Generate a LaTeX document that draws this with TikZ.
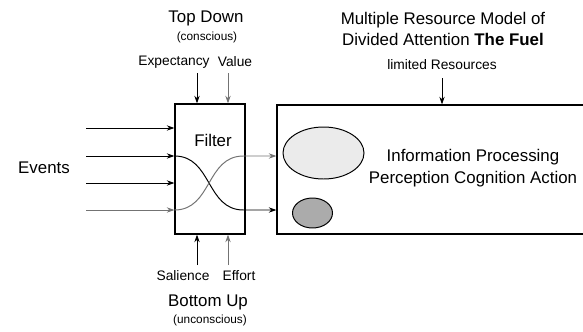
\documentclass[tikz,border=0pt]{standalone}
\usepackage{fontspec}
\setmainfont{Liberation Sans}
\usetikzlibrary{arrows.meta,positioning,calc,shapes.geometric}

\begin{document}
\begin{tikzpicture}[
    box/.style={draw, line width=0.8pt, inner sep=0pt},
    blob/.style={draw, ellipse, line width=0.7pt, inner sep=0pt},
    big/.style={font=\fontsize{12}{15.5}\selectfont, align=center},
    mid/.style={font=\fontsize{9.8}{12}\selectfont},
    small/.style={font=\fontsize{8.4}{10}\selectfont},
    arr/.style={-{Stealth[length=5.5pt,width=3.8pt]}, line width=0.7pt},
    garr/.style={arr, draw=black!55}
  ]
  \useasboundingbox (0,0) rectangle (14.575,8.275);
  \clip (0,0) rectangle (14.575,8.275);

  % filter and the resource box (runs off to the right)
  \node[box, minimum width=1.75cm, minimum height=3.25cm] (filt) at (5.25,4.05) {};
  \node[big] (filtlbl) at (5.325,4.775) {Filter};
  \node[box, minimum width=8.075cm, minimum height=3.225cm] (res) at (10.9625,4.0375) {};
  \node[blob, fill=black!8, minimum width=2.025cm, minimum height=1.3cm] (big) at (8.0875,4.45) {};
  \node[blob, fill=black!33, minimum width=1cm, minimum height=0.75cm] (sml) at (7.8125,2.95) {};
  \node[big] (info) at (11.825,4.075) {Information Processing\\Perception Cognition Action};

  % labels
  \node[big] (events) at (1.1,4.075) {Events};
  \node[big] (topdown) at (5.15,7.825) {Top Down};
  \node[small] (consc) at (5.175,7.35) {(conscious)};
  \node[mid] (expect) at (4.35,6.725) {Expectancy};
  \node[mid] (value) at (5.875,6.725) {Value};
  \node[mid] (sal) at (4.575,1.375) {Salience};
  \node[mid] (effort) at (5.975,1.375) {Effort};
  \node[big] (botup) at (5.2,0.725) {Bottom Up};
  \node[small] (unconsc) at (5.25,0.275) {(unconscious)};
  \node[big] (title) at (11.075,7.55) {Multiple Resource Model of\\Divided Attention \textbf{The Fuel}};
  \node[mid] (limres) at (11.05,6.65) {limited Resources};

  % arrows into the filter
  \coordinate (ex) at (4.925,6.45);
  \coordinate (va) at (5.7,6.45);
  \coordinate (sa) at (4.925,1.65);
  \coordinate (ef) at (5.7,1.65);
  \draw[arr] (ex) -- (ex |- filt.north);
  \draw[garr] (va) -- (va |- filt.north);
  \draw[arr] (sa) -- (sa |- filt.south);
  \draw[garr] (ef) -- (ef |- filt.south);
  \coordinate (lr) at (11.05,6.325);
  \draw[arr] (lr) -- (lr |- res.north);

  \foreach \i/\y/\c in {1/5.075/black, 2/4.375/black, 3/3.7/black, 4/3.025/black!55} {
    \coordinate (ev\i) at (2.15,\y);
    \draw[arr, draw=\c] (ev\i) -- (filt.west |- ev\i);
  }

  % crossing paths through the filter
  \coordinate (out1) at ($(filt.east |- ev2)+(-0.05,0)$);
  \coordinate (out2) at ($(filt.east |- ev4)+(-0.05,0)$);
  \draw[arr] (filt.west |- ev2) to[out=0, in=180, looseness=1.1] (out2) -- (res.west |- out2);
  \draw[garr] (filt.west |- ev4) to[out=0, in=180, looseness=1.1] (out1) -- (res.west |- out1);
\end{tikzpicture}
\end{document}
